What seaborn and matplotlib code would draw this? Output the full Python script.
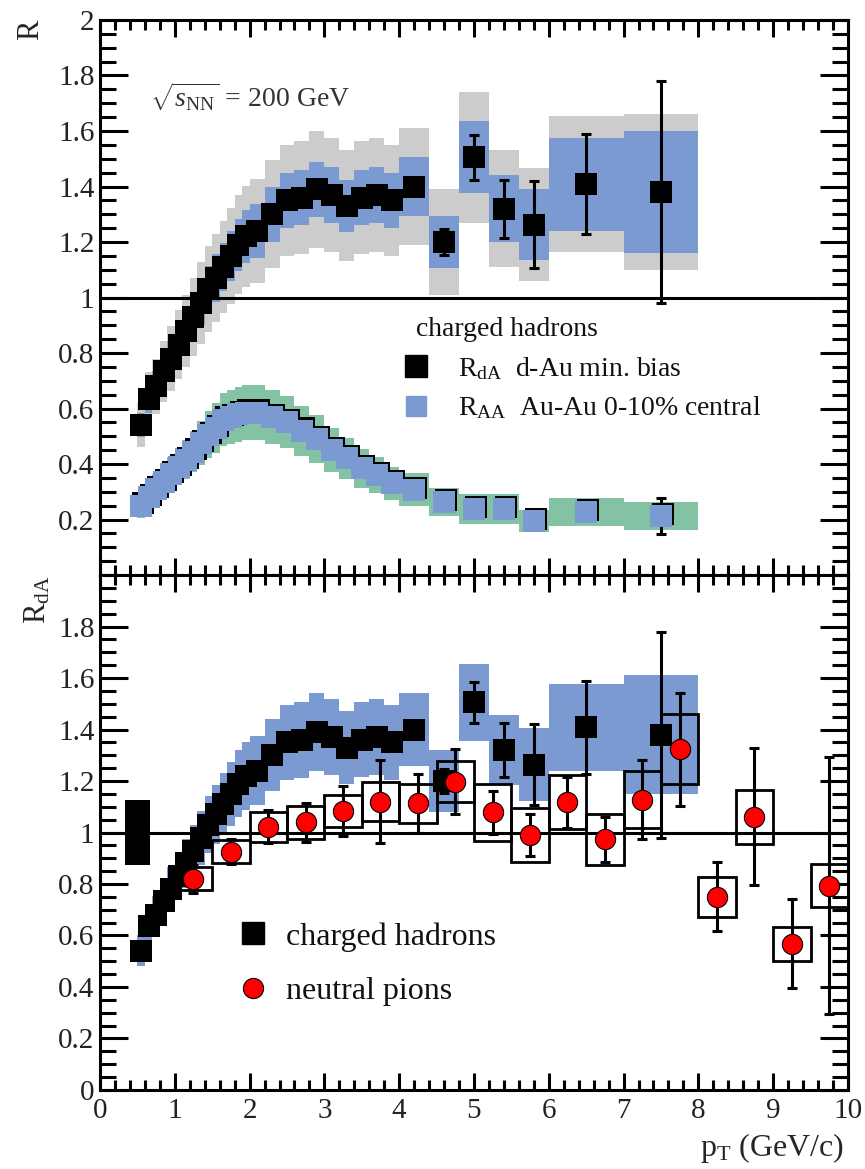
import matplotlib
matplotlib.use('Agg')
import matplotlib.pyplot as plt
import matplotlib.transforms as mtransforms
from matplotlib.ticker import MultipleLocator, FixedLocator, FuncFormatter
from matplotlib.lines import Line2D
import numpy as np
import pandas as pd
import seaborn as sns

# charged hadrons, d-Au min. bias (same points in both panels)
ch_pt = [0.55, 0.65, 0.75, 0.85, 0.95, 1.05, 1.15, 1.25, 1.35, 1.45, 1.55, 1.65, 1.75, 1.85, 1.95,
         2.1, 2.3, 2.5, 2.7, 2.9, 3.1, 3.3, 3.5, 3.7, 3.9,
         4.2, 4.6, 5.0, 5.4, 5.8, 6.5, 7.5]
ch_width = [0.1, 0.1, 0.1, 0.1, 0.1, 0.1, 0.1, 0.1, 0.1, 0.1, 0.1, 0.1, 0.1, 0.1, 0.1,
            0.2, 0.2, 0.2, 0.2, 0.2, 0.2, 0.2, 0.2, 0.2, 0.2,
            0.4, 0.4, 0.4, 0.4, 0.4, 1.0, 1.0]
ch_rda = [0.54, 0.635, 0.68, 0.735, 0.78, 0.83, 0.88, 0.93, 0.98, 1.03, 1.07, 1.11, 1.15, 1.19, 1.22,
          1.24, 1.30, 1.35, 1.36, 1.39, 1.37, 1.33, 1.36, 1.37, 1.35,
          1.40, 1.20, 1.505, 1.32, 1.263, 1.408, 1.38]
ch_stat = [0.01, 0.01, 0.01, 0.01, 0.01, 0.01, 0.01, 0.01, 0.01, 0.01, 0.01, 0.01, 0.01, 0.01, 0.01,
           0.01, 0.01, 0.01, 0.01, 0.01, 0.01, 0.01, 0.01, 0.01, 0.015,
           0.02, 0.047, 0.08, 0.105, 0.157, 0.18, 0.40]
# top panel: inner (blue) and outer (gray) systematic bands
ch_sys_blue = [0.043, 0.05, 0.055, 0.06, 0.062, 0.066, 0.07, 0.074, 0.078, 0.082, 0.085, 0.088, 0.09, 0.093, 0.095,
               0.097, 0.10, 0.10, 0.10, 0.10, 0.10, 0.095, 0.10, 0.10, 0.10,
               0.107, 0.095, 0.13, 0.12, 0.127, 0.167, 0.22]
ch_sys_gray = [0.08, 0.095, 0.10, 0.11, 0.117, 0.125, 0.13, 0.14, 0.147, 0.155, 0.16, 0.166, 0.172, 0.178, 0.183,
               0.186, 0.195, 0.20, 0.205, 0.21, 0.205, 0.20, 0.205, 0.205, 0.20,
               0.21, 0.19, 0.235, 0.21, 0.205, 0.245, 0.28]
# bottom panel band
ch_sys_bottom = [0.06, 0.07, 0.075, 0.08, 0.085, 0.09, 0.095, 0.10, 0.105, 0.11, 0.115, 0.12, 0.125, 0.13, 0.133,
                 0.135, 0.14, 0.145, 0.147, 0.15, 0.148, 0.143, 0.146, 0.147, 0.145,
                 0.14, 0.12, 0.15, 0.137, 0.142, 0.17, 0.23]

# charged hadrons, Au-Au 0-10% central
aa_raa = [0.25, 0.28, 0.31, 0.335, 0.365, 0.39, 0.415, 0.445, 0.475, 0.505, 0.53, 0.56, 0.57, 0.58, 0.585,
          0.585, 0.57, 0.55, 0.52, 0.49, 0.45, 0.42, 0.385, 0.36, 0.33,
          0.307, 0.264, 0.238, 0.238, 0.195, 0.227, 0.213]
aa_stat = [0.005, 0.005, 0.005, 0.005, 0.005, 0.005, 0.005, 0.005, 0.005, 0.005, 0.005, 0.005, 0.005, 0.005, 0.005,
           0.005, 0.005, 0.005, 0.005, 0.005, 0.005, 0.005, 0.005, 0.005, 0.008,
           0.01, 0.012, 0.015, 0.02, 0.02, 0.03, 0.065]
aa_sys = [0.043, 0.048, 0.053, 0.057, 0.062, 0.066, 0.07, 0.075, 0.08, 0.085, 0.09, 0.095, 0.097, 0.099, 0.10,
          0.10, 0.097, 0.094, 0.09, 0.085, 0.08, 0.075, 0.07, 0.065, 0.06,
          0.06, 0.05, 0.053, 0.053, 0.04, 0.05, 0.05]

# neutral pions, d-Au
pi_pt = [1.25, 1.75, 2.25, 2.75, 3.25, 3.75, 4.25, 4.75, 5.25, 5.75, 6.25, 6.75, 7.25, 7.75, 8.25, 8.75, 9.25, 9.75]
pi_width = [0.5, 0.5, 0.5, 0.5, 0.5, 0.5, 0.5, 0.5, 0.5, 0.5, 0.5, 0.5, 0.5, 0.5, 0.5, 0.5, 0.5, 0.5]
pi_rda = [0.82, 0.926, 1.023, 1.039, 1.082, 1.12, 1.113, 1.198, 1.078, 0.99, 1.117, 0.973, 1.128, 1.323,
          0.751, 1.062, 0.568, 0.794]
pi_stat = [0.055, 0.05, 0.065, 0.075, 0.097, 0.16, 0.115, 0.125, 0.085, 0.082, 0.10, 0.088, 0.155, 0.22,
           0.135, 0.265, 0.173, 0.50]
pi_sys = [0.045, 0.045, 0.058, 0.064, 0.062, 0.075, 0.075, 0.08, 0.11, 0.105, 0.105, 0.10, 0.11, 0.136,
          0.078, 0.105, 0.066, 0.085]

# overall normalisation uncertainty box
norm_pt = [0.5]
norm_width = [0.33]
norm_unc = [0.125]

GRAY = '#cccccc'
BLUE = '#7b9ad2'
GREEN = '#84c2a4'
RED = '#ff0000'

sns.set_theme(style='ticks')
plt.rcParams['font.family'] = ['Liberation Serif', 'DejaVu Serif']
plt.rcParams.update({
    'mathtext.fontset': 'custom',
    'mathtext.rm': 'Liberation Serif',
    'mathtext.it': 'Liberation Serif:italic',
    'mathtext.bf': 'Liberation Serif:bold',
    'axes.linewidth': 2.2,
    'axes.edgecolor': 'black',
    'text.color': '#111111',
    'xtick.color': 'black',
    'ytick.color': 'black',
    'xtick.labelcolor': '#222222',
    'ytick.labelcolor': '#222222',
})

MS = 250  # marker area, pt^2
EB = dict(fmt='none', ecolor='black', elinewidth=2.2, capsize=3.6, capthick=2.2)


def band(ax, x, w, y, half, color, z):
    y = np.asarray(y)
    half = np.asarray(half)
    ax.bar(x, 2 * half, width=w, bottom=y - half, color=color, linewidth=0, zorder=z, align='center')


def boxes(ax, x, w, y, half, z):
    y = np.asarray(y)
    half = np.asarray(half)
    ax.bar(x, 2 * half, width=w, bottom=y - half, fill=False, edgecolor='black',
           linewidth=2.0, zorder=z, align='center')


def style_axis(ax, ymajor):
    ax.set_xlim(0, 10)
    ax.set_ylim(0, 2)
    ax.xaxis.set_major_locator(MultipleLocator(1))
    ax.xaxis.set_minor_locator(MultipleLocator(0.2))
    ax.yaxis.set_major_locator(FixedLocator(ymajor))
    ax.yaxis.set_minor_locator(MultipleLocator(0.05))
    ax.yaxis.set_major_formatter(FuncFormatter(lambda v, p: f'{v:g}'))
    ax.tick_params(which='both', direction='in', top=True, right=True, width=2.2, labelsize=21)
    ax.tick_params(axis='y', which='major', length=20, pad=4)
    ax.tick_params(axis='y', which='minor', length=11.5)
    ax.tick_params(axis='x', which='major', length=12, pad=6)
    ax.tick_params(axis='x', which='minor', length=7)
    for s in ax.spines.values():
        s.set_linewidth(2.2)
        s.set_visible(True)


fig = plt.figure(figsize=(8.65, 11.69), dpi=100)
ax1 = fig.add_axes([0.1156, 0.5081, 0.8647, 0.4748])
ax2 = fig.add_axes([0.1156, 0.0676, 0.8647, 0.4405])

ch = pd.DataFrame({'pt': ch_pt, 'rda': ch_rda, 'raa': aa_raa})
pi = pd.DataFrame({'pt': pi_pt, 'rda': pi_rda})

# ---------------- top panel ----------------
band(ax1, ch_pt, ch_width, ch_rda, ch_sys_gray, GRAY, 1)
band(ax1, ch_pt, ch_width, ch_rda, ch_sys_blue, BLUE, 2)
band(ax1, ch_pt, ch_width, aa_raa, aa_sys, GREEN, 2)
ax1.axhline(1, color='black', lw=2.2, zorder=3)

shadow = mtransforms.offset_copy(ax1.transData, fig=fig, x=1.6, y=1.6, units='points')
ax1.scatter(ch_pt, aa_raa, marker='s', s=MS * 0.92, color='black', linewidth=0, zorder=4, transform=shadow)
ax1.errorbar(ch_pt, aa_raa, yerr=aa_stat, zorder=4, **EB)
sns.scatterplot(data=ch, x='pt', y='raa', marker='s', s=MS * 0.92, color=BLUE, linewidth=0, zorder=5, ax=ax1)

ax1.errorbar(ch_pt, ch_rda, yerr=ch_stat, zorder=6, **EB)
sns.scatterplot(data=ch, x='pt', y='rda', marker='s', s=MS, color='black', linewidth=0, zorder=7, ax=ax1)

style_axis(ax1, [0.2, 0.4, 0.6, 0.8, 1.0, 1.2, 1.4, 1.6, 1.8, 2.0])
ax1.tick_params(axis='x', labelbottom=False)
ax1.set_xlabel('')
ax1.set_ylabel('R', loc='top', fontsize=22)
ax1.yaxis.set_label_coords(-0.073, 1.0)

ax1.text(0.067, 0.862, r'$\sqrt{s_{\rm NN}}$ = 200 GeV', transform=ax1.transAxes,
         fontsize=20, va='center', ha='left', color='#333333')

h_top = [Line2D([], [], marker='s', color='black', linestyle='none', markersize=15.5),
         Line2D([], [], marker='s', color=BLUE, linestyle='none', markersize=15)]
ax1.legend(h_top, [r'R$_{\rm dA}$  d-Au min. bias', r'R$_{\rm AA}$  Au-Au 0-10% central'],
           title='  charged hadrons', title_fontsize=20, fontsize=20, loc='upper left',
           bbox_to_anchor=(0.404, 0.464), frameon=False, borderpad=0, borderaxespad=0,
           handlelength=1.0, handletextpad=1.0, labelspacing=0.45, alignment='left')

# ---------------- bottom panel ----------------
band(ax2, ch_pt, ch_width, ch_rda, ch_sys_bottom, BLUE, 1)
ax2.bar(norm_pt, [2 * u for u in norm_unc], width=norm_width, bottom=[1 - u for u in norm_unc],
        color='black', linewidth=0, zorder=2)
boxes(ax2, pi_pt, pi_width, pi_rda, pi_sys, 3)
ax2.axhline(1, color='black', lw=2.2, zorder=3)

ax2.errorbar(ch_pt, ch_rda, yerr=ch_stat, zorder=4, **EB)
sns.scatterplot(data=ch, x='pt', y='rda', marker='s', s=MS, color='black', linewidth=0, zorder=5, ax=ax2)
ax2.errorbar(pi_pt, pi_rda, yerr=pi_stat, zorder=6, **EB)
sns.scatterplot(data=pi, x='pt', y='rda', marker='o', s=MS * 0.85, color=RED, edgecolor='black',
                linewidth=0.8, zorder=7, ax=ax2)

style_axis(ax2, [0, 0.2, 0.4, 0.6, 0.8, 1.0, 1.2, 1.4, 1.6, 1.8])
ax2.set_ylabel(r'R$_{\rm dA}$', loc='top', fontsize=22)
ax2.yaxis.set_label_coords(-0.064, 1.0)
ax2.set_xlabel(r'p$_{\rm T}$ (GeV/c)', loc='right', fontsize=23)
ax2.xaxis.set_label_coords(0.995, -0.08)

h_bot = [Line2D([], [], marker='s', color='black', linestyle='none', markersize=15.5),
         Line2D([], [], marker='o', color=RED, markeredgecolor='black', markeredgewidth=0.8,
                linestyle='none', markersize=14.5)]
ax2.legend(h_bot, ['charged hadrons', 'neutral pions'], fontsize=23, loc='upper left',
           bbox_to_anchor=(0.183, 0.326), frameon=False, borderpad=0, borderaxespad=0,
           handlelength=1.0, handletextpad=0.55, labelspacing=0.78)

fig.savefig('out.png', dpi=100)
